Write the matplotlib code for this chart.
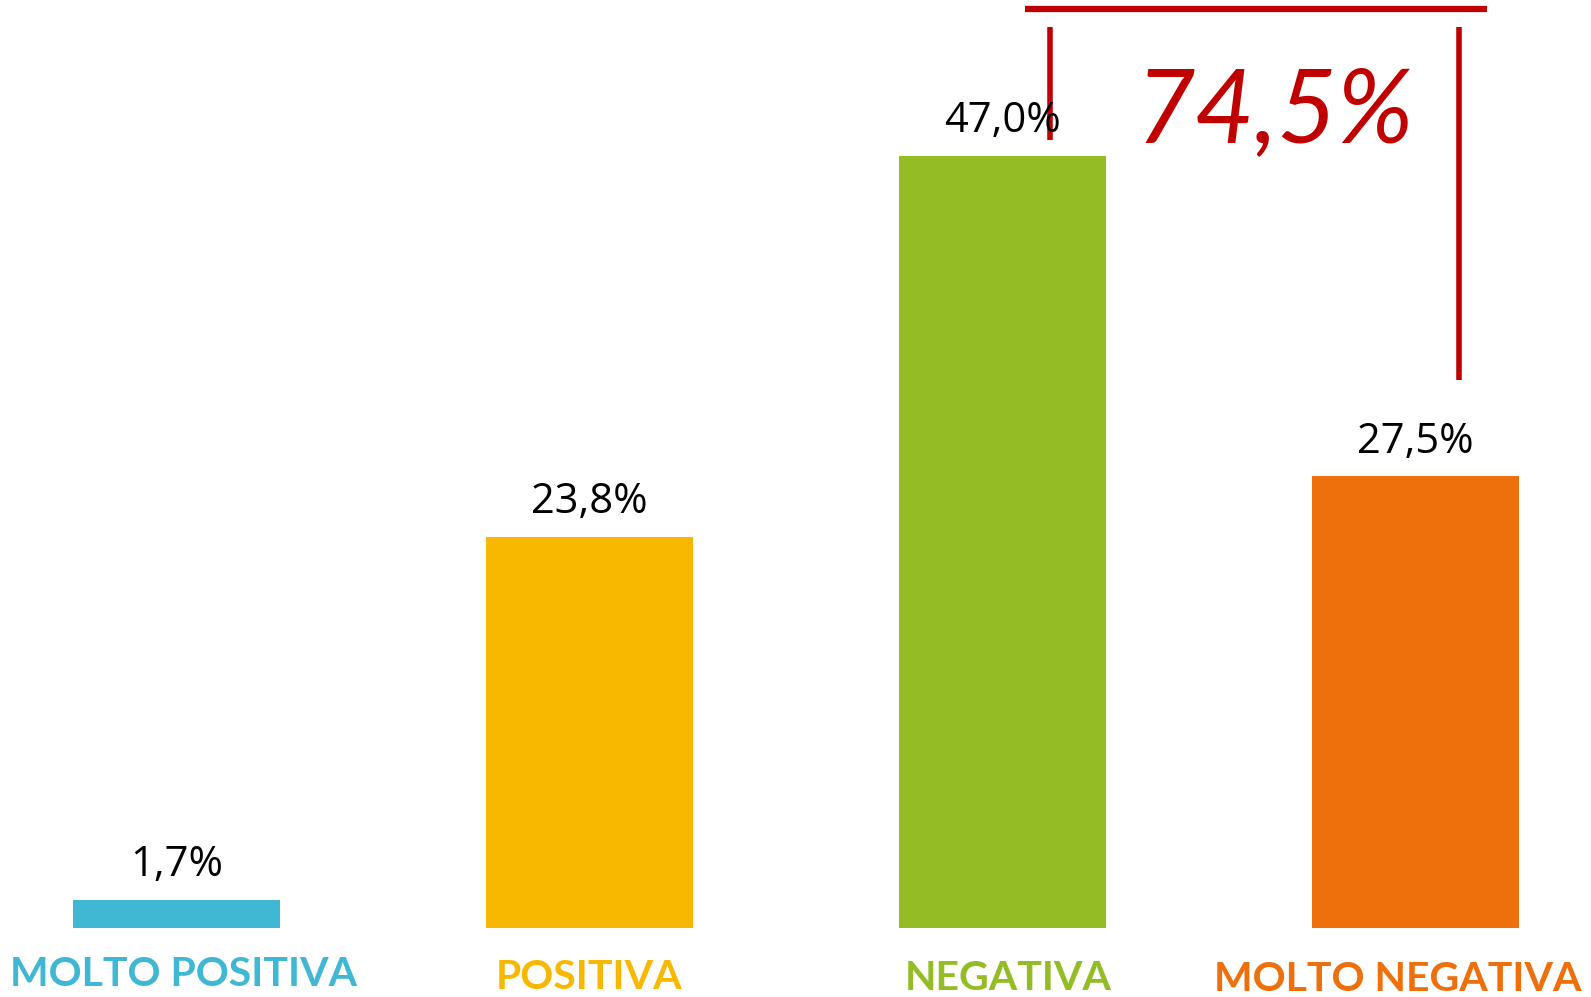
import matplotlib.pyplot as plt

# data
categories = ['MOLTO POSITIVA', 'POSITIVA', 'NEGATIVA', 'MOLTO NEGATIVA']
values = [1.7, 23.8, 47.0, 27.5]
value_labels = ['1,7%', '23,8%', '47,0%', '27,5%']
colors = ['#41B8D3', '#F9B800', '#93BC25', '#ED700C']
total_negative_label = '74,5%'

red = '#C00000'

fig = plt.figure(figsize=(15.91, 9.97), dpi=100)
# axes spans the figure width, bottom edge at the bar baseline
ax = fig.add_axes([0, 69 / 997, 1, 928 / 997])

x = list(range(len(categories)))
ax.bar(x, values, width=0.5, color=colors)

ax.set_xlim(-0.4274, 3.425)
ax.set_ylim(0, 56.48)

# value labels above each bar
for xi, v, lab in zip(x, values, value_labels):
    ax.annotate(lab, (xi, v), xytext=(0, 17), textcoords='offset points',
                ha='center', va='baseline', fontsize=30, family='Open Sans',
                color='black')

# category names under the bars, in bar colour (slightly off-centre as in the original)
label_dx = [0.018, 0.0, 0.013, -0.042]
label_y = [-0.050, -0.053, -0.054, -0.056]
for xi, name, c, dx, yy in zip(x, categories, colors, label_dx, label_y):
    ax.text(xi + dx, yy, name, transform=ax.get_xaxis_transform(),
            ha='center', va='center', fontsize=29.5, fontweight='bold',
            family='Lato', color=c, clip_on=False)
ax.set_xticks([])
ax.set_yticks([])
for s in ax.spines.values():
    s.set_visible(False)

# hand drawn bracket over the two negative bars
ax.plot([2.054, 3.173], [55.93, 55.93], color=red, lw=4.5, clip_on=False,
        solid_capstyle='butt')
ax.plot([2.115, 2.115], [54.84, 47.96], color=red, lw=4, solid_capstyle='butt')
ax.plot([3.105, 3.105], [54.84, 33.35], color=red, lw=4, solid_capstyle='butt')
ax.text(2.66, 49.6, total_negative_label, color=red, fontsize=74,
        family='Lato', fontstyle='italic', fontweight='normal',
        ha='center', va='center')

fig.savefig('out.png', dpi=100)
